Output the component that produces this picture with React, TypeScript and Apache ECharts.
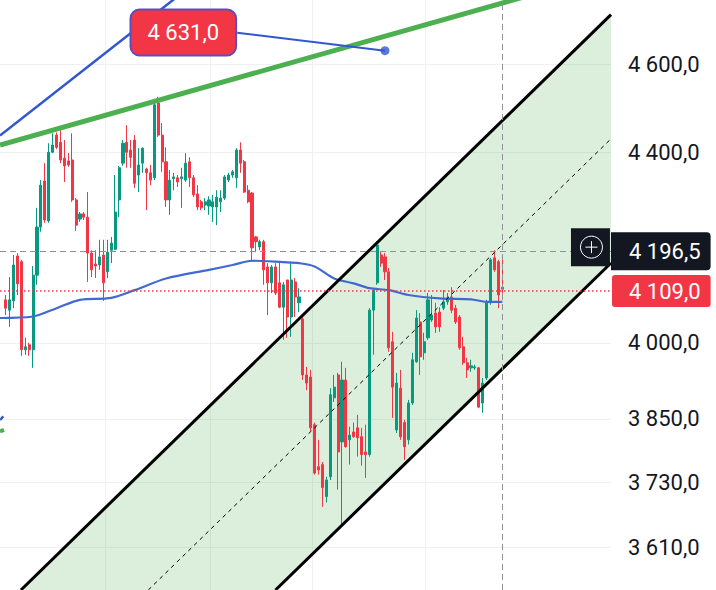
import React, { useEffect, useRef } from 'react';
import * as echarts from 'echarts';

// ---- Candles (price values) ----
const OPEN = [
  4087, 4066, 4085, 4178, 4166, 3986, 3996, 3986, 4138, 4239, 4338, 4252, 4401, 4439, 4423, 4388,
  4382, 4384, 4297, 4256, 4267, 4260, 4184, 4161, 4159, 4180, 4145, 4190, 4192, 4297, 4377, 4423,
  4406, 4428, 4351, 4377, 4364, 4356, 4345, 4511, 4439, 4380, 4297, 4343, 4345, 4343, 4340, 4380,
  4345, 4310, 4293, 4286, 4284, 4282, 4282, 4293, 4301, 4340, 4351, 4345, 4406, 4380, 4318, 4312,
  4218, 4197, 4208, 4155, 4122, 4155, 4122, 4072, 4128, 4052, 4124, 4081, 4048, 3936, 3932, 3839,
  3759, 3763, 3703, 3740, 3891, 3936, 3806, 3926, 3810, 3825, 3833, 3816, 3787, 3782, 4066, 4122,
  4180, 4176, 4145, 4002, 3829, 3910, 3843, 3810, 3881, 3962, 4042, 3980, 4010, 4046, 4060, 4062,
  4070, 4083, 4093, 4070, 4052, 3992, 3960, 3950, 3950, 3950, 3881, 3930, 4081, 4174, 4166, 4113,
];
const CLOSE = [
  4070, 4087, 4159, 4120, 3986, 3992, 3986, 4138, 4239, 4329, 4254, 4401, 4417, 4412, 4384, 4371,
  4373, 4297, 4243, 4267, 4260, 4184, 4149, 4157, 4176, 4122, 4186, 4205, 4271, 4367, 4421, 4401,
  4390, 4333, 4373, 4410, 4356, 4340, 4507, 4439, 4380, 4297, 4340, 4347, 4336, 4347, 4377, 4345,
  4308, 4282, 4280, 4293, 4297, 4293, 4303, 4301, 4347, 4351, 4358, 4406, 4377, 4314, 4293, 4195,
  4208, 4208, 4149, 4122, 4155, 4101, 4072, 4118, 4052, 4128, 4093, 4093, 3936, 3920, 3833, 3747,
  3753, 3720, 3734, 3897, 3912, 3787, 3926, 3797, 3819, 3816, 3814, 3782, 3782, 4066, 4107, 4201,
  4163, 4145, 3990, 3912, 3920, 3816, 3797, 3881, 3966, 4050, 3972, 4002, 4087, 4056, 4032, 4032,
  4083, 4091, 4066, 4042, 3990, 3960, 3946, 3954, 3952, 3873, 3920, 4083, 4170, 4149, 4097, 4109,
];
const LOW = [
  4056, 4032, 4070, 4097, 3974, 3976, 3974, 3950, 4118, 4229, 4248, 4248, 4399, 4408, 4377, 4336,
  4369, 4293, 4231, 4250, 4254, 4124, 4134, 4132, 4149, 4085, 4132, 4163, 4190, 4260, 4371, 4367,
  4367, 4323, 4314, 4356, 4275, 4329, 4340, 4435, 4358, 4282, 4265, 4318, 4325, 4280, 4336, 4325,
  4303, 4275, 4275, 4275, 4265, 4250, 4243, 4271, 4297, 4336, 4345, 4323, 4356, 4312, 4290, 4166,
  4186, 4190, 4118, 4056, 4101, 4097, 4070, 4006, 4010, 4012, 4052, 4062, 3926, 3906, 3827, 3744,
  3744, 3684, 3692, 3734, 3883, 3716, 3651, 3795, 3763, 3814, 3778, 3761, 3738, 3778, 3976, 4118,
  4155, 4128, 3982, 3852, 3823, 3810, 3772, 3801, 3877, 3960, 3936, 3966, 4006, 4042, 4020, 4022,
  4066, 4077, 4060, 4038, 3986, 3956, 3930, 3942, 3946, 3871, 3862, 3926, 4077, 4145, 4070, 4100,
];
const HIGH = [
  4097, 4134, 4180, 4184, 4170, 4010, 4000, 4157, 4280, 4340, 4377, 4421, 4443, 4445, 4450, 4428,
  4399, 4443, 4301, 4271, 4271, 4314, 4190, 4190, 4212, 4212, 4212, 4218, 4351, 4371, 4428, 4461,
  4428, 4439, 4410, 4412, 4367, 4373, 4518, 4525, 4466, 4412, 4362, 4356, 4351, 4367, 4399, 4390,
  4351, 4329, 4297, 4301, 4305, 4308, 4318, 4318, 4351, 4356, 4362, 4410, 4423, 4384, 4329, 4314,
  4220, 4212, 4212, 4163, 4159, 4163, 4166, 4124, 4128, 4166, 4132, 4111, 4056, 3952, 3946, 3843,
  3810, 3768, 3740, 3910, 3936, 3940, 3962, 3950, 3835, 3843, 3858, 3833, 3839, 4070, 4111, 4208,
  4186, 4184, 4153, 4022, 3940, 3946, 3848, 3887, 3980, 4066, 4060, 4020, 4101, 4097, 4081, 4072,
  4107, 4101, 4113, 4077, 4056, 4012, 3970, 3966, 3956, 3952, 3930, 4087, 4174, 4190, 4170, 4170,
];

// ---- Moving average ----
const MA_INDEX = [-1.5, 7, 13, 19, 27, 33, 41, 52, 58, 63, 71, 75, 79, 84, 89, 93, 98, 103, 111, 119, 123, 127];
const MA_VALUE = [4050, 4053, 4070, 4087, 4091, 4107, 4131, 4149, 4159, 4168, 4165, 4163, 4156, 4131, 4121, 4111, 4107, 4097, 4090, 4088, 4083, 4083];

// ---- Axis ----
const Y_TICKS = [4600, 4400, 4000, 3850, 3730, 3610];
const Y_MIN = 3533.6;
const Y_MAX = 4750.2;
const X_MIN = -1.46;
const X_MAX = 154.8;
const TIME_GRID = [25.4, 52.3, 78.3, 107.2];

// ---- Drawings: [candle index, price] ----
const GREEN_TREND = [[-1.46, 4417], [154.8, 4816.6]];
const BLUE_TREND = [[-1.46, 4437.9], [44.58, 4763.3]];
const CHANNEL_UPPER = [[3.89, 3533.6], [154.8, 4715.4]];
const CHANNEL_LOWER = [[69.0, 3533.6], [154.8, 4163.2]];
const CHANNEL_MID = [[36.46, 3533.6], [154.8, 4430.8]];
const LEFT_BLUE_STUB = [[-1.46, 3848], [-0.61, 3855]];
const LEFT_GREEN_STUB = [[-1.46, 3826], [-0.44, 3829]];
const NOTE_PRICE = 4631.0;
const NOTE_INDEX = 97;
const NOTE_BOX = [45.42, 4673.4];
const NOTE_LINK_START = [59.23, 4672.9];
const CROSS_PRICE = 4196.5;
const CROSS_INDEX = 127;
const LAST_PRICE = 4109.0;

const UP = '#089981';
const DOWN = '#f23645';
const BLUE = '#3157cf';
const FONT = 'Roboto';

const L = Math.log;
const fmt = (p: number) => {
  const [a, b] = p.toFixed(1).split('.');
  return a.replace(/\B(?=(\d{3})+(?!\d))/g, ' ') + ',' + b;
};
const pts = (arr: number[][]) => arr.map(([i, p]) => [i, L(p)]);

export default function App() {
  const ref = useRef<HTMLDivElement>(null);
  useEffect(() => {
    if (!ref.current) return;
    const chart = echarts.init(ref.current, undefined, { renderer: 'svg' });
    const candles = OPEN.map((o, i) => [i, L(o), L(CLOSE[i]), L(LOW[i]), L(HIGH[i])]);
    const ma = MA_INDEX.map((i, k) => [i, L(MA_VALUE[k])]);
    const fillPoly = [...CHANNEL_UPPER, ...CHANNEL_LOWER.slice().reverse()];

    const simpleLine = (data: number[][], color: string, width: number, z: number, type: any = 'solid') => ({
      type: 'line',
      data: pts(data),
      symbol: 'none',
      silent: true,
      z,
      lineStyle: { color, width, type },
    });

    chart.setOption({
      animation: false,
      backgroundColor: '#ffffff',
      textStyle: { fontFamily: FONT },
      grid: { left: 0, right: 105, top: 0, bottom: 0, containLabel: false, outerBoundsMode: 'none' },
      xAxis: {
        type: 'value',
        min: X_MIN,
        max: X_MAX,
        axisLine: { show: false },
        axisTick: { show: false, customValues: TIME_GRID },
        axisLabel: { show: false, customValues: TIME_GRID },
        splitLine: { show: true, lineStyle: { color: '#eef0f3', width: 1 } },
      },
      yAxis: {
        type: 'value',
        position: 'right',
        min: L(Y_MIN),
        max: L(Y_MAX),
        axisLine: { show: false },
        axisTick: { show: false, customValues: Y_TICKS.map(L) },
        axisLabel: {
          customValues: Y_TICKS.map(L),
          formatter: (v: number) => fmt(Math.exp(v)),
          margin: 17,
          align: 'left',
          fontSize: 22,
          color: '#131722',
          fontFamily: FONT,
          padding: [0, 0, 6, 0],
        },
        splitLine: { show: true, lineStyle: { color: '#eef0f3', width: 1 } },
      },
      series: [
        {
          type: 'custom',
          z: 1,
          silent: true,
          data: [pts([CHANNEL_UPPER[0]])[0]],
          renderItem: (_params: any, api: any) => ({
            type: 'polygon',
            shape: { points: fillPoly.map(([i, p]) => api.coord([i, L(p)])) },
            style: { fill: 'rgba(76,175,80,0.2)' },
          }),
        },
        {
          type: 'candlestick',
          z: 2,
          data: candles,
          encode: { x: 0, y: [1, 2, 3, 4] },
          barWidth: 2.6,
          silent: true,
          itemStyle: { color: UP, color0: DOWN, borderColor: UP, borderColor0: DOWN, borderWidth: 1 },
        },
        {
          type: 'line',
          data: ma,
          smooth: 0.3,
          symbol: 'none',
          silent: true,
          z: 3,
          lineStyle: { color: '#4169d4', width: 2.2 },
        },
        simpleLine(GREEN_TREND, '#4caf50', 5, 4),
        simpleLine(BLUE_TREND, BLUE, 2.5, 4),
        simpleLine(LEFT_BLUE_STUB, BLUE, 2.5, 4),
        simpleLine(LEFT_GREEN_STUB, '#4caf50', 4, 4),
        simpleLine(CHANNEL_UPPER, '#000000', 3, 4),
        simpleLine(CHANNEL_LOWER, '#000000', 3, 4),
        simpleLine(CHANNEL_MID, '#000000', 1, 4, [4, 4]),
        {
          type: 'line',
          data: [],
          z: 5,
          silent: true,
          markLine: {
            silent: true,
            symbol: ['none', 'none'],
            data: [
              {
                yAxis: L(CROSS_PRICE),
                lineStyle: { color: '#8d9099', width: 1, type: [6, 4] },
                label: {
                  show: true,
                  position: 'end',
                  distance: 0,
                  formatter: () => fmt(CROSS_PRICE),
                  color: '#ffffff',
                  fontSize: 22,
                  fontFamily: FONT,
                  lineHeight: 22,
                  backgroundColor: '#131722',
                  padding: [8, 10, 8, 18],
                  borderRadius: [0, 4, 4, 0],
                },
              },
              {
                xAxis: CROSS_INDEX,
                lineStyle: { color: '#8d9099', width: 1, type: [6, 4] },
                label: { show: false },
              },
            ],
          },
          markPoint: {
            silent: true,
            label: { show: false },
            data: [
              {
                coord: [X_MAX - 0.01, L(CROSS_PRICE)],
                symbol: 'rect',
                symbolSize: [39, 38],
                symbolOffset: [-20.5, 0],
                itemStyle: { color: '#131722' },
              },
              {
                coord: [X_MAX - 0.01, L(CROSS_PRICE)],
                symbol: 'path://M12,1A11,11,0,1,1,11.99,1Z M12,6L12,18 M6,12L18,12',
                symbolSize: 22,
                symbolOffset: [-19.5, 0],
                itemStyle: { color: 'rgba(0,0,0,0)', borderColor: '#ffffff', borderWidth: 1 },
              },
            ],
          },
        },
        {
          type: 'line',
          data: [],
          z: 5,
          silent: true,
          itemStyle: { color: DOWN },
          markLine: {
            silent: true,
            symbol: ['none', 'none'],
            lineStyle: { color: DOWN, width: 1.5, type: [1.5, 2.5], opacity: 1 },
            data: [
              {
                yAxis: L(LAST_PRICE),
                label: {
                  show: true,
                  position: 'end',
                  distance: 1,
                  formatter: () => fmt(LAST_PRICE),
                  color: '#ffffff',
                  fontSize: 22,
                  fontFamily: FONT,
                  lineHeight: 22,
                  backgroundColor: DOWN,
                  padding: [5, 10, 5, 17],
                  borderRadius: 3,
                },
              },
            ],
          },
        },
        {
          type: 'line',
          data: pts([NOTE_LINK_START, [NOTE_INDEX, NOTE_PRICE]]),
          symbol: 'none',
          silent: true,
          z: 6,
          lineStyle: { color: BLUE, width: 2 },
          markPoint: {
            silent: true,
            data: [
              {
                coord: [NOTE_BOX[0], L(NOTE_BOX[1])],
                symbol: 'rect',
                symbolSize: 0,
                itemStyle: { color: 'rgba(0,0,0,0)' },
                label: {
                  show: true,
                  position: 'inside',
                  formatter: () => fmt(NOTE_PRICE),
                  color: '#ffffff',
                  fontSize: 22,
                  fontFamily: FONT,
                  lineHeight: 22,
                  backgroundColor: '#f23645',
                  borderColor: '#5b4ec4',
                  borderWidth: 2,
                  borderRadius: 8,
                  padding: [11, 16, 11, 16],
                },
              },
            ],
          },
        },
        {
          type: 'scatter',
          data: pts([[NOTE_INDEX, NOTE_PRICE]]),
          symbolSize: 9,
          silent: true,
          z: 6,
          itemStyle: { color: BLUE },
        },
      ],
    });
    return () => chart.dispose();
  }, []);
  return (
    <div
      ref={ref}
      style={{ position: 'fixed', left: 0, top: 0, width: 716, height: 590, background: '#fff' }}
    />
  );
}
